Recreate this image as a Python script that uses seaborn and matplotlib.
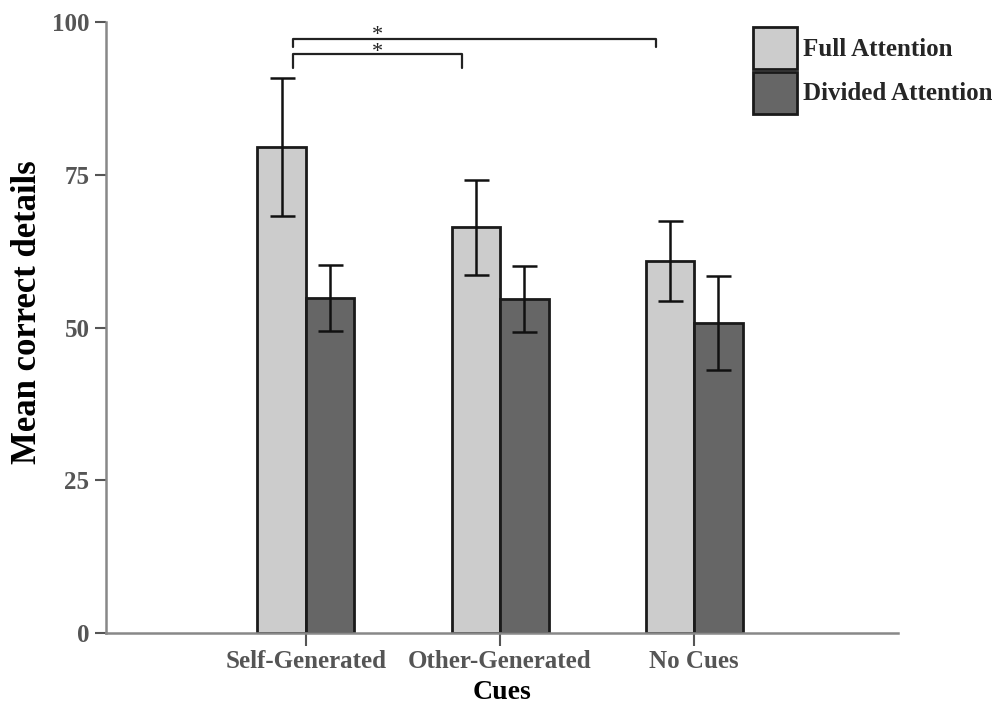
import pandas as pd
import matplotlib
matplotlib.use("Agg")
import matplotlib.pyplot as plt
import seaborn as sns
from matplotlib.patches import Patch

cues = ["Self-Generated", "Other-Generated", "No Cues"]
conditions = ["Full Attention", "Divided Attention"]
full_means = [79.6, 66.4, 60.9]
full_errs = [11.3, 7.8, 6.5]
divided_means = [54.8, 54.7, 50.8]
divided_errs = [5.4, 5.4, 7.7]
bar_colors = ["#cccccc", "#666666"]

# significance brackets: (from cue, to cue, height)
sig_pairs = [(0, 1, 94.8), (0, 2, 97.2)]

df = pd.DataFrame({
    "Cues": cues * 2,
    "Condition": [conditions[0]] * 3 + [conditions[1]] * 3,
    "Mean": full_means + divided_means,
    "Err": full_errs + divided_errs,
})

sns.set_style("white")
plt.rcParams["font.family"] = ["Liberation Serif", "DejaVu Serif"]
plt.rcParams["font.weight"] = "bold"

fig = plt.figure(figsize=(9.92, 7.09), dpi=100)
ax = fig.add_axes([0.107, 0.107, 0.798, 0.862])

sns.barplot(data=df, x="Cues", y="Mean", hue="Condition", order=cues,
            hue_order=conditions, palette=bar_colors, width=0.5,
            edgecolor="#1a1a1a", linewidth=2, errorbar=None, legend=False, ax=ax)

# error bars at the bar centres
for i, cond in enumerate(conditions):
    sub = df[df["Condition"] == cond].set_index("Cues").loc[cues]
    bars = ax.containers[i]
    xs = [b.get_x() + b.get_width() / 2 for b in bars]
    ax.errorbar(xs, sub["Mean"], yerr=sub["Err"], fmt="none", ecolor="#111111",
                elinewidth=1.8, capsize=9, capthick=1.8, zorder=5)

# significance brackets
for a, b, h in sig_pairs:
    x0 = a - 0.065
    x1 = b - 0.195
    drop = 2.3 if b == 1 else 1.3
    ax.plot([x0, x0, x1, x1], [h - drop, h, h, h - drop], color="#222222",
            lw=1.6, clip_on=False)
# both stars in one text, one above each bracket
star_x = (-0.065 + (1 - 0.195)) / 2
ax.text(star_x, max(h for _, _, h in sig_pairs) - 0.8, "*\n*", ha="center",
        va="center", fontsize=16, color="#222222", fontweight="normal",
        linespacing=0.84)

ax.set_xlim(-1.03, 3.05)
ax.set_ylim(0, 100)
ax.set_yticks([0, 25, 50, 75, 100])
ax.set_xlabel("Cues", fontsize=20, fontweight="bold", color="black", labelpad=5)
ax.set_ylabel("Mean correct details", fontsize=25, fontweight="bold", color="black")
ax.yaxis.set_label_coords(-0.078, 0.525)

sns.despine(ax=ax)
for side in ["left", "bottom"]:
    ax.spines[side].set_color("#888888")
    ax.spines[side].set_linewidth(1.8)
ax.tick_params(axis="both", colors="#555555", labelsize=18, width=1.5,
               left=True, bottom=True)
ax.tick_params(axis="y", length=8, pad=4)
ax.tick_params(axis="x", length=9, pad=3)
for lab in ax.get_xticklabels() + ax.get_yticklabels():
    lab.set_fontweight("bold")

handles = [Patch(facecolor=c, edgecolor="#1a1a1a", linewidth=2) for c in bar_colors]
ax.legend(handles, conditions, loc="upper left", bbox_to_anchor=(0.817, 0.992),
          frameon=False, borderpad=0, borderaxespad=0, handlelength=1.75,
          handleheight=2.2, labelspacing=0.12, handletextpad=0.25,
          prop={"size": 18, "weight": "bold"})

fig.savefig("out.png", dpi=100)
